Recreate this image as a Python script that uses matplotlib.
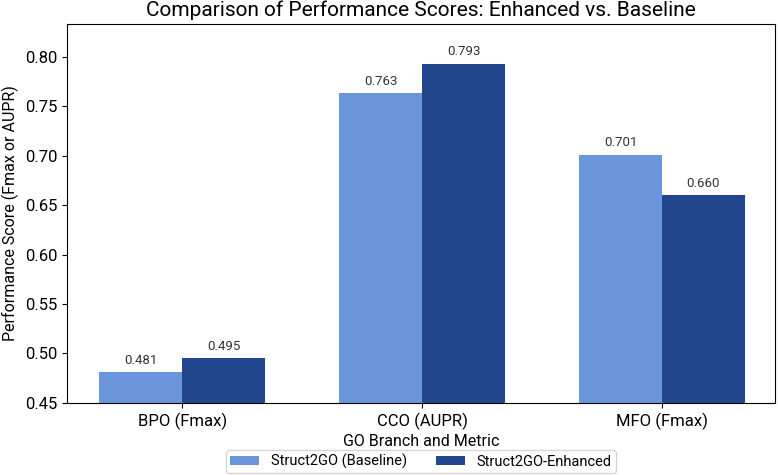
import matplotlib
matplotlib.use("Agg")
import matplotlib.pyplot as plt
import numpy as np

plt.rcParams['font.family'] = ['Roboto', 'DejaVu Sans']

categories = ["BPO (Fmax)", "CCO (AUPR)", "MFO (Fmax)"]
baseline = [0.481, 0.763, 0.701]
enhanced = [0.495, 0.793, 0.660]
series_names = ["Struct2GO (Baseline)", "Struct2GO-Enhanced"]

fig = plt.figure(figsize=(7.78, 4.75), dpi=100)
ax = fig.add_axes([0.086, 0.152, 0.91, 0.797])

x = np.arange(len(categories))
w = 0.345
b1 = ax.bar(x - w/2, baseline, w, color="#6A95DA", label=series_names[0])
b2 = ax.bar(x + w/2, enhanced, w, color="#21468E", label=series_names[1])

for bars in (b1, b2):
    for r in bars:
        ax.annotate(f"{r.get_height():.3f}", (r.get_x() + r.get_width()/2, r.get_height()),
                    xytext=(0, 4), textcoords="offset points", ha="center", va="bottom",
                    fontsize=9.5, color="#333333")

ax.set_ylim(0.45, 0.833)
ax.set_xlim(-0.48, 2.47)
ax.set_xticks(x)
ax.set_xticklabels(categories, fontsize=12)
ax.tick_params(axis='y', labelsize=12)
ax.set_yticks(np.arange(0.45, 0.801, 0.05))
ax.set_yticklabels([f"{v:.2f}" for v in np.arange(0.45, 0.801, 0.05)])
ax.set_xlabel("GO Branch and Metric", fontsize=11.5, labelpad=3)
ax.set_ylabel("Performance Score (Fmax or AUPR)", fontsize=11.5)
ax.set_title("Comparison of Performance Scores: Enhanced vs. Baseline", fontsize=15, pad=6)
ax.legend(loc="upper center", bbox_to_anchor=(0.5, -0.114), ncol=2, fontsize=10.5,
          frameon=True, columnspacing=2.0, borderpad=0.25, borderaxespad=0.3,
          handleheight=0.6)

fig.savefig("out.png", dpi=100)
